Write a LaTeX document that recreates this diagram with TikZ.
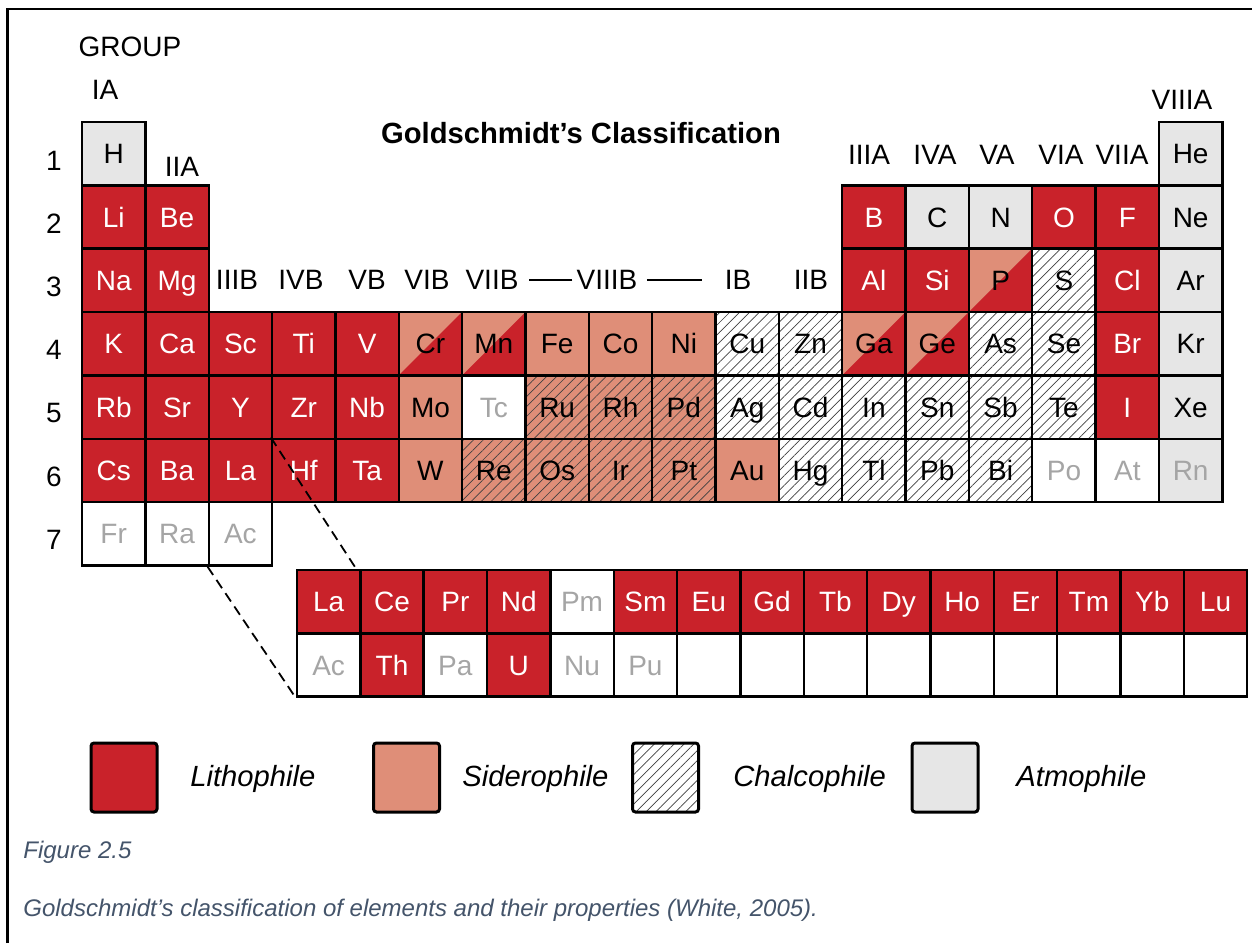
\documentclass[tikz,border=0pt]{standalone}
\usepackage{fontspec}
\setmainfont{Liberation Sans}
\usepackage{xcolor}
\usetikzlibrary{positioning,calc,patterns.meta}

\definecolor{lithored}{RGB}{201,34,42}
\definecolor{sideropink}{RGB}{223,142,120}
\definecolor{atmogray}{RGB}{230,230,230}
\definecolor{synthgray}{RGB}{165,165,165}
\definecolor{captionblue}{RGB}{68,84,106}

\begin{document}
\begin{tikzpicture}[x=0.5pt,y=-0.5pt,node distance=31.675pt]
	\tikzstyle{cell}=[draw,line width=1.2pt,minimum width=31.675pt,minimum height=31.675pt,inner sep=0pt,text height=10pt,text depth=0pt,font=\fontsize{14}{16}\selectfont]
	\tikzstyle{litho}=[cell,fill=lithored,text=white]
	\tikzstyle{sidero}=[cell,fill=sideropink]
	\tikzstyle{atmo}=[cell,fill=atmogray]
	\tikzstyle{synth}=[cell,fill=white,text=synthgray]
	\tikzstyle{chalco}=[cell,preaction={fill=white},pattern={Lines[angle=45,distance=3.5pt,line width=0.35pt]},pattern color=black!75]
	\tikzstyle{siderochalco}=[cell,preaction={fill=sideropink},pattern={Lines[angle=45,distance=3.5pt,line width=0.35pt]},pattern color=black!75]
	\tikzstyle{split}=[cell,fill=sideropink,path picture={\fill[lithored] (path picture bounding box.south west) -- (path picture bounding box.north east) -- (path picture bounding box.south east) -- cycle;}]
	\tikzstyle{grp}=[font=\fontsize{14}{16}\selectfont,inner sep=0pt]
	\tikzstyle{legbox}=[draw,line width=1.5pt,rounded corners=1.5pt,minimum width=33pt,minimum height=34.5pt]
	\tikzstyle{legtext}=[font=\itshape\fontsize{14.6}{17}\selectfont,anchor=west,inner sep=0pt]
	\tikzstyle{capt}=[font=\itshape\fontsize{12}{14}\selectfont,text=captionblue,anchor=west,inner sep=0pt]

	\useasboundingbox (0,0) rectangle (1252,943);
	\draw[line width=1.3pt] (7.5,943) -- (7.5,9) -- (1252,9);

	% s- and d-block
	\node[atmo](H) at (113.7,153.65){H};
	\node[litho](Li)[below of=H]{Li};
	\node[litho](Be)[right of=Li]{Be};
	\node[litho](Na)[below of=Li]{Na};
	\node[litho](Mg)[right of=Na]{Mg};

	\node[litho](K)[below of=Na]{K};
	\node[litho](Ca)[right of=K]{Ca};
	\node[litho](Sc)[right of=Ca]{Sc};
	\node[litho](Ti)[right of=Sc]{Ti};
	\node[litho](V)[right of=Ti]{V};
	\node[split](Cr)[right of=V]{Cr};
	\node[split](Mn)[right of=Cr]{Mn};
	\node[sidero](Fe)[right of=Mn]{Fe};
	\node[sidero](Co)[right of=Fe]{Co};
	\node[sidero](Ni)[right of=Co]{Ni};
	\node[chalco](Cu)[right of=Ni]{Cu};
	\node[chalco](Zn)[right of=Cu]{Zn};
	\node[split](Ga)[right of=Zn]{Ga};
	\node[split](Ge)[right of=Ga]{Ge};
	\node[chalco](As)[right of=Ge]{As};
	\node[chalco](Se)[right of=As]{Se};
	\node[litho](Br)[right of=Se]{Br};
	\node[atmo](Kr)[right of=Br]{Kr};

	\node[litho](Rb)[below of=K]{Rb};
	\node[litho](Sr)[right of=Rb]{Sr};
	\node[litho](Y)[right of=Sr]{Y};
	\node[litho](Zr)[right of=Y]{Zr};
	\node[litho](Nb)[right of=Zr]{Nb};
	\node[sidero](Mo)[right of=Nb]{Mo};
	\node[synth](Tc)[right of=Mo]{Tc};
	\node[siderochalco](Ru)[right of=Tc]{Ru};
	\node[siderochalco](Rh)[right of=Ru]{Rh};
	\node[siderochalco](Pd)[right of=Rh]{Pd};
	\node[chalco](Ag)[right of=Pd]{Ag};
	\node[chalco](Cd)[right of=Ag]{Cd};
	\node[chalco](In)[right of=Cd]{In};
	\node[chalco](Sn)[right of=In]{Sn};
	\node[chalco](Sb)[right of=Sn]{Sb};
	\node[chalco](Te)[right of=Sb]{Te};
	\node[litho](I)[right of=Te]{I};
	\node[atmo](Xe)[right of=I]{Xe};

	\node[litho](Cs)[below of=Rb]{Cs};
	\node[litho](Ba)[right of=Cs]{Ba};
	\node[litho](La)[right of=Ba]{La};
	\node[litho](Hf)[right of=La]{Hf};
	\node[litho](Ta)[right of=Hf]{Ta};
	\node[sidero](W)[right of=Ta]{W};
	\node[siderochalco](Re)[right of=W]{Re};
	\node[siderochalco](Os)[right of=Re]{Os};
	\node[siderochalco](Ir)[right of=Os]{Ir};
	\node[siderochalco](Pt)[right of=Ir]{Pt};
	\node[sidero](Au)[right of=Pt]{Au};
	\node[chalco](Hg)[right of=Au]{Hg};
	\node[chalco](Tl)[right of=Hg]{Tl};
	\node[chalco](Pb)[right of=Tl]{Pb};
	\node[chalco](Bi)[right of=Pb]{Bi};
	\node[synth](Po)[right of=Bi]{Po};
	\node[synth](At)[right of=Po]{At};
	\node[atmo,text=synthgray](Rn)[right of=At]{Rn};

	\node[synth](Fr)[below of=Cs]{Fr};
	\node[synth](Ra)[right of=Fr]{Ra};
	\node[synth](Ac)[right of=Ra]{Ac};

	% p-block
	\node[litho](Al)[above of=Ga]{Al};
	\node[litho](Si)[right of=Al]{Si};
	\node[split](P)[right of=Si]{P};
	\node[chalco](S)[right of=P]{S};
	\node[litho](Cl)[right of=S]{Cl};
	\node[atmo](Ar)[right of=Cl]{Ar};
	\node[litho](B)[above of=Al]{B};
	\node[atmo](C)[right of=B]{C};
	\node[atmo](N)[right of=C]{N};
	\node[litho](O)[right of=N]{O};
	\node[litho](F)[right of=O]{F};
	\node[atmo](Ne)[right of=F]{Ne};
	\node[atmo](He)[above of=Ne]{He};

	% f-block
	\node[litho](fLa) at (328.65,601.65){La};
	\node[litho](fCe)[right of=fLa]{Ce};
	\node[litho](fPr)[right of=fCe]{Pr};
	\node[litho](fNd)[right of=fPr]{Nd};
	\node[synth](fPm)[right of=fNd]{Pm};
	\node[litho](fSm)[right of=fPm]{Sm};
	\node[litho](fEu)[right of=fSm]{Eu};
	\node[litho](fGd)[right of=fEu]{Gd};
	\node[litho](fTb)[right of=fGd]{Tb};
	\node[litho](fDy)[right of=fTb]{Dy};
	\node[litho](fHo)[right of=fDy]{Ho};
	\node[litho](fEr)[right of=fHo]{Er};
	\node[litho](fTm)[right of=fEr]{Tm};
	\node[litho](fYb)[right of=fTm]{Yb};
	\node[litho](fLu)[right of=fYb]{Lu};

	\node[synth](aAc)[below of=fLa]{Ac};
	\node[litho](aTh)[right of=aAc]{Th};
	\node[synth](aPa)[right of=aTh]{Pa};
	\node[litho](aU)[right of=aPa]{U};
	\node[synth](aNu)[right of=aU]{Nu};
	\node[synth](aPu)[right of=aNu]{Pu};
	\node[synth](e1)[right of=aPu]{};
	\node[synth](e2)[right of=e1]{};
	\node[synth](e3)[right of=e2]{};
	\node[synth](e4)[right of=e3]{};
	\node[synth](e5)[right of=e4]{};
	\node[synth](e6)[right of=e5]{};
	\node[synth](e7)[right of=e6]{};
	\node[synth](e8)[right of=e7]{};
	\node[synth](e9)[right of=e8]{};

	\coordinate (fTop) at (355,567);
	\draw[line width=0.9pt,dash pattern=on 5pt off 3pt] (Hf.north west) -- (fTop);
	\draw[line width=0.9pt,dash pattern=on 5pt off 3pt] (Ac.south west) -- (aAc.south west);

	% groups and periods
	\node[font=\bfseries\fontsize{14.6}{17}\selectfont](title) at (581,133){Goldschmidt’s Classification};
	\node[grp](gGroup) at (130,47){GROUP};
	\node[grp](gIA) at (105,90){IA};
	\node[grp](gIIA) at (182,167){IIA};
	\node[grp](gIIIB) at (237,280){IIIB};
	\node[grp](gIVB) at (301,280){IVB};
	\node[grp](gVB) at (367,280){VB};
	\node[grp](gVIB) at (427,280){VIB};
	\node[grp](gVIIB) at (492,280){VIIB};
	\node[grp](gVIIIB) at (607,280){VIIIB};
	\node[grp](gIB) at (738,280){IB};
	\node[grp](gIIB) at (811,280){IIB};
	\node[grp](gIIIA) at (869,155){IIIA};
	\node[grp](gIVA) at (935,155){IVA};
	\node[grp](gVA) at (997,155){VA};
	\node[grp](gVIA) at (1061,155){VIA};
	\node[grp](gVIIA) at (1122,155){VIIA};
	\node[grp](gVIIIA) at (1182,100){VIIIA};
	\draw[line width=1.1pt] ([xshift=-2pt]gVIIIB.west) -- +(-43,0);
	\draw[line width=1.1pt] ([xshift=4.5pt]gVIIIB.east) -- +(55,0);

	\node[grp](r1) at (54,161){1};
	\node[grp](r2) at (54,224){2};
	\node[grp](r3) at (54,287){3};
	\node[grp](r4) at (54,350){4};
	\node[grp](r5) at (54,413){5};
	\node[grp](r6) at (54,477){6};
	\node[grp](r7) at (54,540){7};

	% legend
	\node[legbox,fill=lithored](kLitho) at (124,777.5){};
	\node[legtext](tLitho) at (190,779){Lithophile};
	\node[legbox,fill=sideropink](kSidero) at (406.5,777.5){};
	\node[legtext](tSidero) at (462,779){Siderophile};
	\node[legbox,preaction={fill=white},pattern={Lines[angle=45,distance=3.5pt,line width=0.35pt]},pattern color=black!75](kChalco) at (665.5,777.5){};
	\node[legtext](tChalco) at (733,779){Chalcophile};
	\node[legbox,fill=atmogray](kAtmo) at (945,777.5){};
	\node[legtext](tAtmo) at (1016,779){Atmophile};

	\node[capt](figNo) at (23,852){Figure 2.5};
	\node[capt](figText) at (23,910){Goldschmidt’s classification of elements and their properties (White, 2005).};
\end{tikzpicture}
\end{document}
